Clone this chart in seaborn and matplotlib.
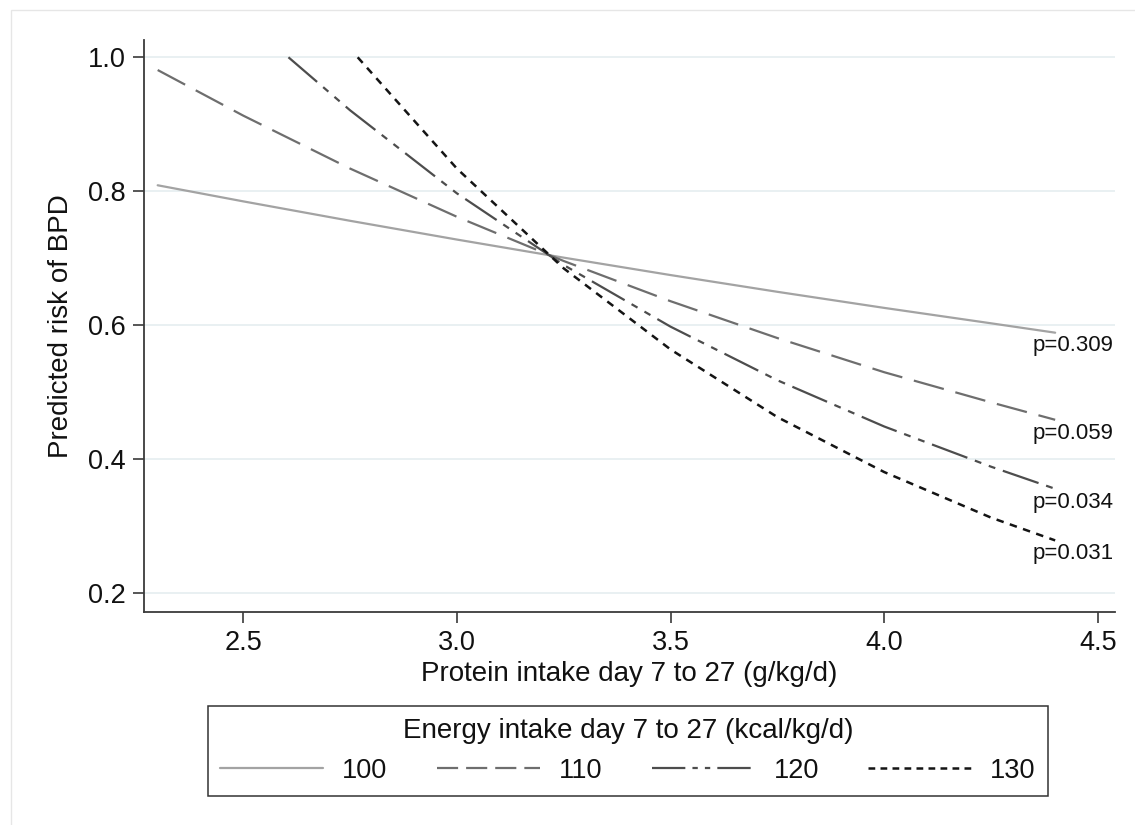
import matplotlib
matplotlib.use("Agg")
import matplotlib.pyplot as plt
import seaborn as sns
import pandas as pd
from matplotlib.lines import Line2D
from matplotlib.patches import Rectangle

# ---- data ----
energy_levels = ["100", "110", "120", "130"]

protein_100 = [2.30, 2.50, 2.75, 3.00, 3.25, 3.50, 3.75, 4.00, 4.25, 4.40]
risk_100 = [0.809, 0.785, 0.756, 0.728, 0.701, 0.675, 0.650, 0.626, 0.603, 0.589]

protein_110 = [2.30, 2.50, 2.75, 3.00, 3.25, 3.50, 3.75, 4.00, 4.25, 4.40]
risk_110 = [0.981, 0.913, 0.834, 0.762, 0.696, 0.636, 0.581, 0.530, 0.485, 0.459]

protein_120 = [2.606, 2.75, 3.00, 3.25, 3.50, 3.75, 4.00, 4.25, 4.40]
risk_120 = [1.000, 0.921, 0.797, 0.690, 0.598, 0.518, 0.449, 0.389, 0.356]

protein_130 = [2.768, 3.00, 3.25, 3.50, 3.75, 4.00, 4.25, 4.40]
risk_130 = [1.000, 0.834, 0.685, 0.564, 0.463, 0.381, 0.313, 0.279]

p_labels = ["p=0.309", "p=0.059", "p=0.034", "p=0.031"]

x_ticks = [2.5, 3.0, 3.5, 4.0, 4.5]
y_ticks = [0.2, 0.4, 0.6, 0.8, 1.0]

x_title = "Protein intake day 7 to 27 (g/kg/d)"
y_title = "Predicted risk of BPD"
legend_title = "Energy intake day 7 to 27 (kcal/kg/d)"

# ---- build long-form table ----
series_x = [protein_100, protein_110, protein_120, protein_130]
series_y = [risk_100, risk_110, risk_120, risk_130]
rows = []
for lvl, xs, ys in zip(energy_levels, series_x, series_y):
    for xv, yv in zip(xs, ys):
        rows.append({"protein": xv, "risk": yv, "energy": lvl})
df = pd.DataFrame(rows)

# ---- styling ----
sns.set_theme(style="white")
plt.rcParams["font.family"] = ["Liberation Sans", "DejaVu Sans"]

colors = {"100": "#a3a3a3", "110": "#6e6e6e", "120": "#4d4d4d", "130": "#141414"}
dashes = {"100": "", "110": (14, 5.4), "120": (17, 3.6, 3.1, 3.6, 3.1, 3.6),
          "130": (3.0, 2.6)}
lw = 1.6

W, H = 1135, 825
fig = plt.figure(figsize=(W / 100, H / 100), dpi=100)
fig.patch.set_facecolor("white")
ax_left, ax_right, ax_top, ax_bottom = 144, 1115, 40, 611.7
ax = fig.add_axes([ax_left / W, 1 - ax_bottom / H, (ax_right - ax_left) / W,
                   (ax_bottom - ax_top) / H])

sns.lineplot(data=df, x="protein", y="risk", hue="energy", style="energy",
             palette=colors, dashes=dashes, hue_order=energy_levels,
             style_order=energy_levels, estimator=None, linewidth=lw,
             legend=False, ax=ax)
# slightly heavier short-dash line, as in the reference
ax.get_lines()[3].set_linewidth(1.8)

ax.set_xlim(2.268, 4.540)
ax.set_ylim(0.1726, 1.0258)
ax.set_xticks(x_ticks)
ax.set_xticklabels([f"{v:.1f}" for v in x_ticks])
ax.set_yticks(y_ticks)
ax.set_yticklabels([f"{v:.1f}" for v in y_ticks])

ax.grid(axis="y", color="#e9f0f2", linewidth=1.4)
ax.grid(axis="x", visible=False)
ax.set_axisbelow(True)

for s in ["top", "right"]:
    ax.spines[s].set_visible(False)
for s in ["left", "bottom"]:
    ax.spines[s].set_color("#3a3a3a")
    ax.spines[s].set_linewidth(1.3)

ax.tick_params(axis="both", which="major", direction="out", length=8,
               width=1.2, color="#3a3a3a", labelsize=19.5, labelcolor="#111111",
               pad=5, left=True, bottom=True)

ax.set_xlabel(x_title, fontsize=20, color="#111111", labelpad=4)
ax.set_ylabel(y_title, fontsize=20, color="#111111", labelpad=10)

# p-value labels at end of each line
for lvl, xs, ys, lab in zip(energy_levels, series_x, series_y, p_labels):
    ax.annotate(lab, xy=(xs[-1], ys[-1]), xytext=(-16, -2),
                textcoords="offset points", ha="left", va="top",
                fontsize=16, color="#111111")

# legend
handles = [
    Line2D([], [], color=colors["100"], lw=lw, linestyle="-"),
    Line2D([], [], color=colors["110"], lw=lw, linestyle=(0, (9.5, 3.6))),
    Line2D([], [], color=colors["120"], lw=lw,
           linestyle=(0, (15, 3.2, 2.4, 3.2, 2.4, 3.2))),
    Line2D([], [], color=colors["130"], lw=1.8, linestyle=(0, (2.7, 2.1))),
]
leg = fig.legend(handles, energy_levels, ncol=4, title=legend_title,
                 loc="lower left",
                 bbox_to_anchor=(207.7 / W, 1 - 796 / H, 840.3 / W, 0.11),
                 mode="expand", frameon=True, fancybox=False, shadow=False,
                 fontsize=19.5, title_fontsize=20, handlelength=3.8,
                 handletextpad=0.7, borderpad=0.45, labelspacing=0.5,
                 borderaxespad=0.0)
leg.get_frame().set_edgecolor("#333333")
leg.get_frame().set_linewidth(1.1)
leg.get_frame().set_facecolor("white")
leg.get_frame().set_alpha(1)
for t in leg.get_texts():
    t.set_color("#111111")
leg.get_title().set_color("#111111")

# faint outer frame of the graph region
fig.patches.append(Rectangle((10.5 / W, -0.05), 1.2, 1 - 10.5 / H + 0.05,
                             transform=fig.transFigure, fill=False,
                             edgecolor="#e6e6e6", linewidth=1.0, zorder=0))

fig.savefig("out.png", dpi=100, facecolor="white")
